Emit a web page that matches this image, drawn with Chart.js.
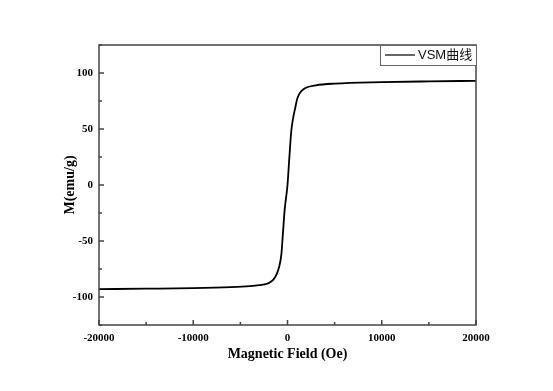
<!DOCTYPE html>
<html><head><meta charset="utf-8">
<script src="https://cdn.jsdelivr.net/npm/chart.js@4.4.1/dist/chart.umd.min.js"></script>
<style>html,body{margin:0;padding:0;background:#fff;}#wrap{width:553px;height:391px;}</style>
</head><body><div id="wrap"><canvas id="c" width="553" height="391"></canvas></div>
<script>
const seriesLabel = 'VSM曲线';
const fieldOe = [-20000,-15000,-10000,-6000,-4000,-3000,-2000,-1500,-1200,-900,-650,-500,-300,0,200,400,600,800,1000,1200,1500,2000,3000,5000,10000,15000,20000];
const magnetization = [-93,-92.6,-92.1,-91.2,-90.3,-89.4,-87.6,-84.5,-80.5,-73.5,-62,-45,-22,0,25,48,60,68,76,80.5,84,87,89,90.5,91.8,92.5,93];
const xMajorTicks = [-20000,-10000,0,10000,20000];
const xMinorTicks = [-15000,-5000,5000,15000];
const yMajorTicks = [-100,-50,0,50,100];
const yMinorTicks = [-125,-75,-25,25,75,125];

const points = fieldOe.map((h,i)=>({x:h,y:magnetization[i]}));
const serif = "'Liberation Serif','Times New Roman',serif";

const framePlugin = {
  id:'frame',
  afterDatasetsDraw(chart){
    const {ctx, chartArea:a, scales:{x,y}} = chart;
    ctx.save();
    ctx.strokeStyle='#444'; ctx.lineWidth=1.5;
    ctx.strokeRect(a.left,a.top,a.right-a.left,a.bottom-a.top);
    ctx.beginPath();
    xMajorTicks.forEach(v=>{const p=x.getPixelForValue(v);ctx.moveTo(p,a.bottom);ctx.lineTo(p,a.bottom-5);});
    xMinorTicks.forEach(v=>{const p=x.getPixelForValue(v);ctx.moveTo(p,a.bottom);ctx.lineTo(p,a.bottom-3);});
    yMajorTicks.forEach(v=>{const p=y.getPixelForValue(v);ctx.moveTo(a.left,p);ctx.lineTo(a.left+5,p);});
    yMinorTicks.forEach(v=>{const p=y.getPixelForValue(v);ctx.moveTo(a.left,p);ctx.lineTo(a.left+3,p);});
    ctx.stroke();
    // legend box
    const bw=96,bh=20,bx=a.right-bw,by=a.top;
    ctx.fillStyle='#fff';ctx.fillRect(bx,by,bw,bh);
    ctx.strokeStyle='#666';ctx.lineWidth=1;ctx.strokeRect(bx+0.5,by+0.5,bw,bh);
    ctx.strokeStyle='#000';ctx.lineWidth=1.2;
    ctx.beginPath();ctx.moveTo(bx+5,by+10);ctx.lineTo(bx+35,by+10);ctx.stroke();
    ctx.fillStyle='#111';ctx.font="13px 'Liberation Sans', Arial, 'Noto Sans CJK SC', sans-serif";
    ctx.textBaseline='middle';ctx.textAlign='left';
    ctx.fillText(chart.data.datasets[0].label,bx+38,by+10.5);
    ctx.restore();
  }
};

new Chart(document.getElementById('c'),{
  type:'scatter',
  data:{datasets:[{label:seriesLabel,data:points,showLine:true,borderColor:'#000',borderWidth:1.8,pointRadius:0,cubicInterpolationMode:'monotone',fill:false}]},
  options:{
    responsive:false,animation:false,
    layout:{padding:{top:45,right:77,left:0,bottom:0}},
    plugins:{legend:{display:false},tooltip:{enabled:false}},
    scales:{
      x:{type:'linear',min:-20000,max:20000,
        afterBuildTicks(s){s.ticks=xMajorTicks.map(v=>({value:v}));},
        afterFit(s){s.height=66;},
        grid:{display:false,drawTicks:false},border:{display:false},
        ticks:{padding:7,color:'#000',font:{family:serif,weight:'bold',size:11},maxRotation:0,callback:v=>String(v)},
        title:{display:true,text:'Magnetic Field (Oe)',color:'#000',font:{family:serif,weight:'bold',size:14},padding:{top:0,bottom:28}}
      },
      y:{type:'linear',min:-125,max:125,
        afterBuildTicks(s){s.ticks=yMajorTicks.map(v=>({value:v}));},
        afterFit(s){s.width=99;},
        grid:{display:false,drawTicks:false},border:{display:false},
        ticks:{padding:6,color:'#000',font:{family:serif,weight:'bold',size:11},callback:v=>String(v)},
        title:{display:true,text:'M(emu/g)',color:'#000',font:{family:serif,weight:'bold',size:14},padding:{top:62,bottom:0}}
      }
    }
  },
  plugins:[framePlugin]
});
</script></body></html>
